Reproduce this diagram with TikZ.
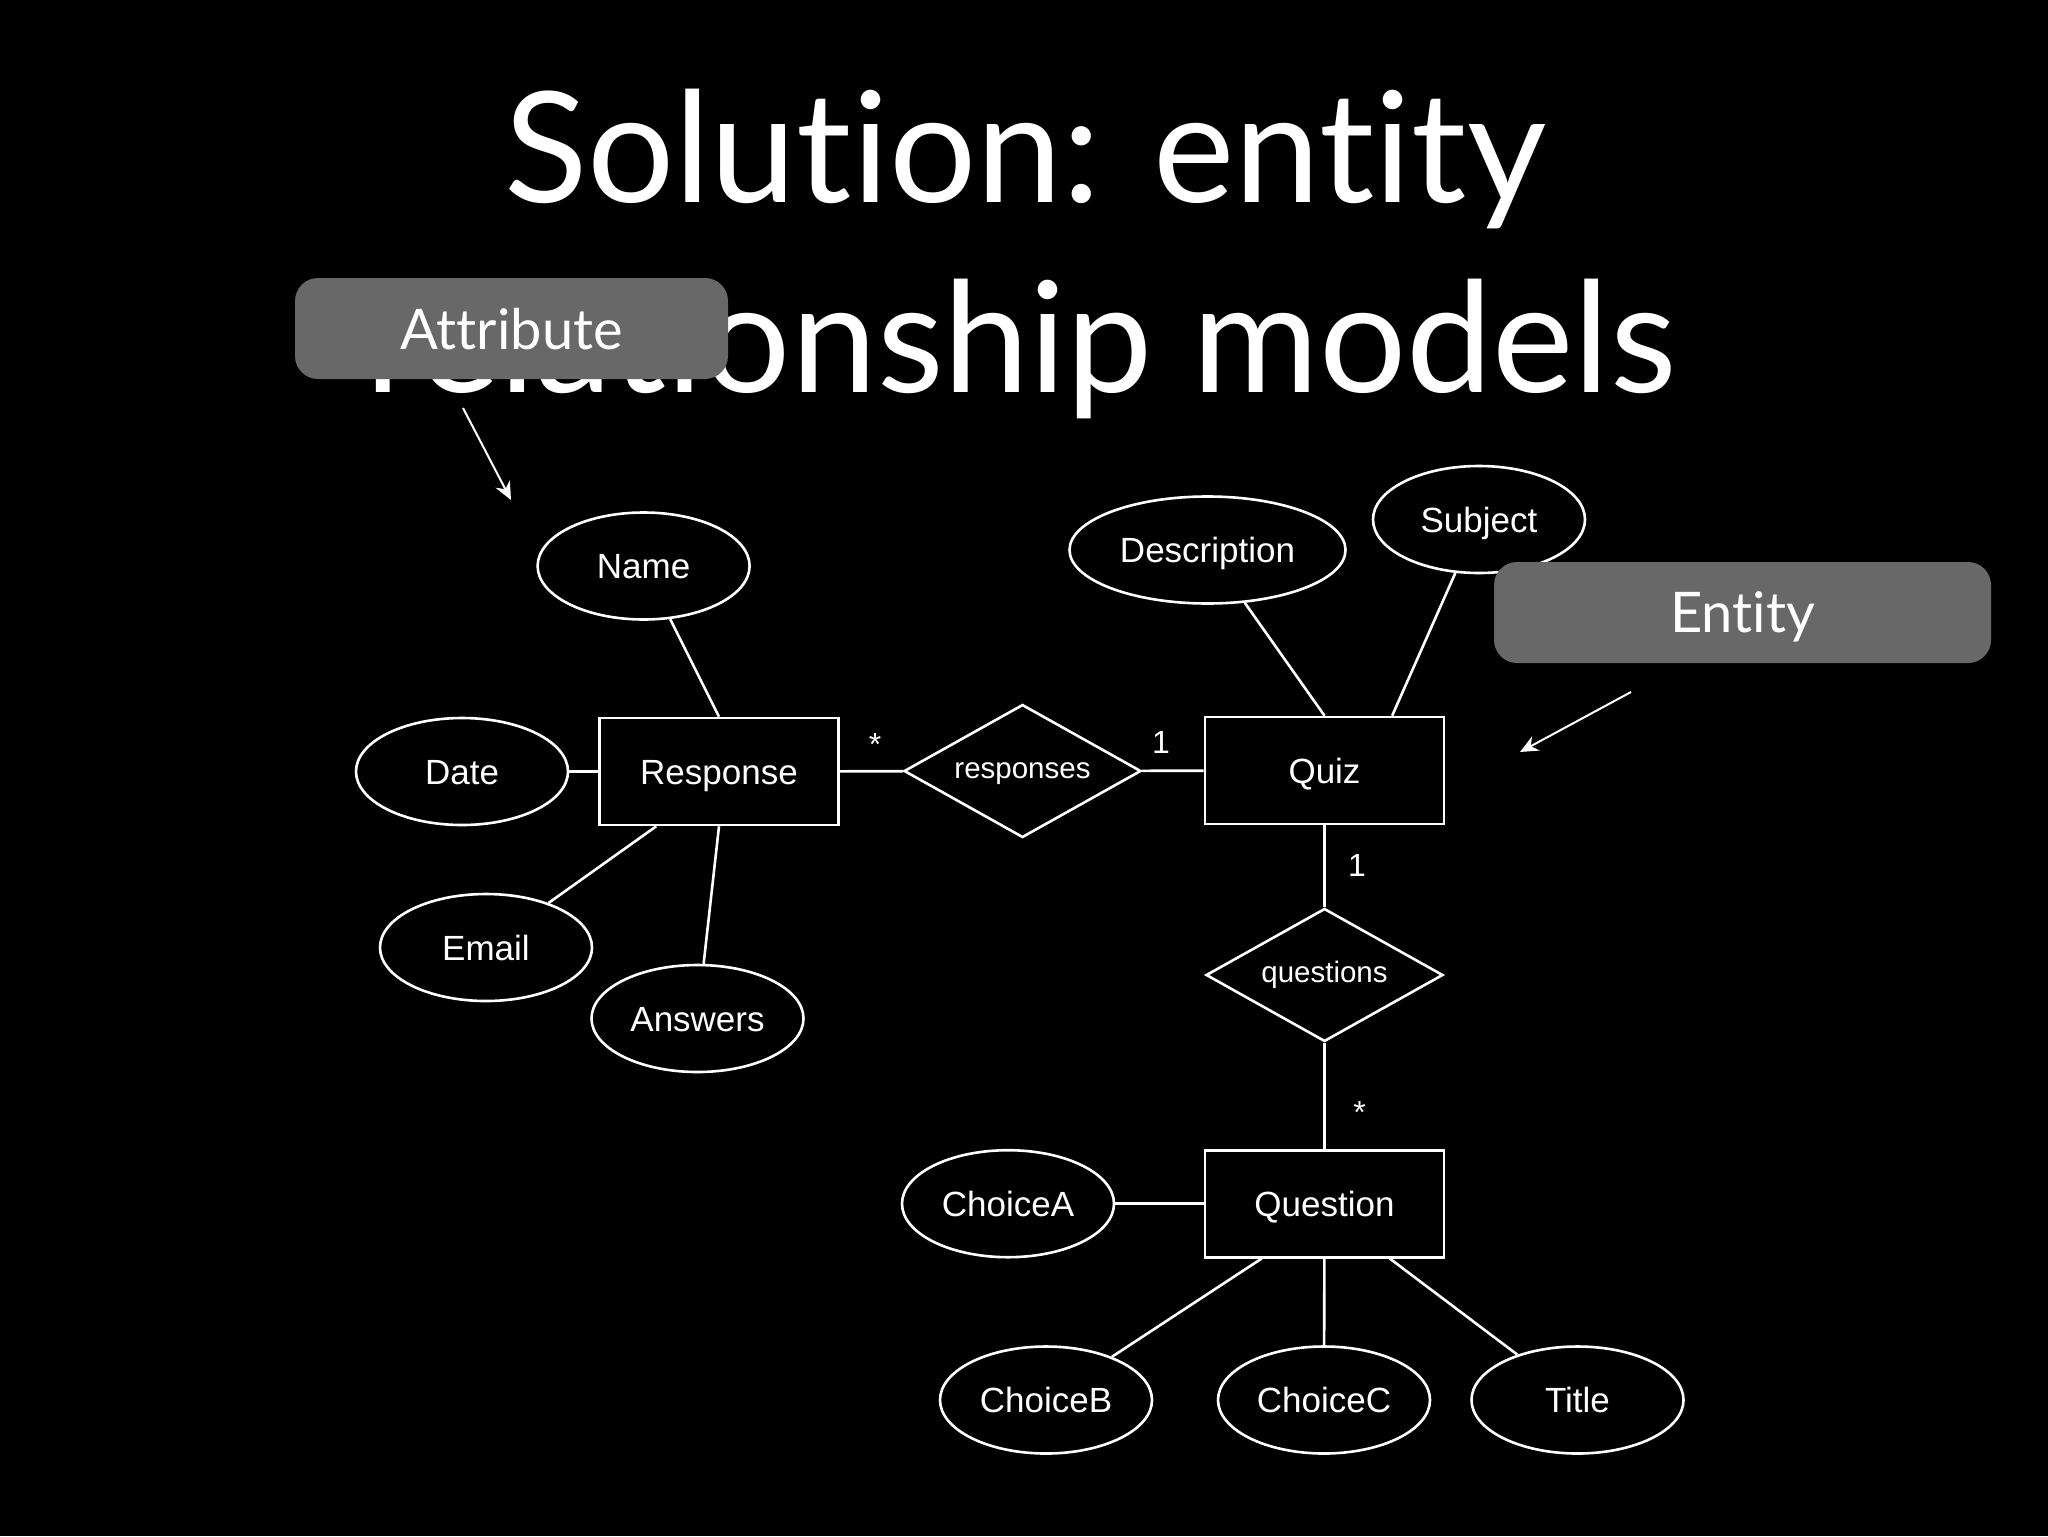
\documentclass[tikz,border=0pt]{standalone}
\usepackage{fontspec}
\setmainfont{Liberation Sans}
\newfontfamily\titlefont[Ligatures={NoCommon,NoContextual}]{Lato}
\usetikzlibrary{shapes.geometric,arrows.meta,calc}
\definecolor{callgray}{HTML}{686868}
\begin{document}
\begin{tikzpicture}[x=0.5pt,y=-0.5pt,
  attrnode/.style={ellipse,draw=white,line width=1.3pt,minimum width=106pt,minimum height=53.5pt,inner sep=0pt,text=white,text height=12.5pt,text depth=0pt,font=\fontsize{17.5pt}{20pt}\selectfont},
  entnode/.style={rectangle,draw=white,line width=1.3pt,minimum width=119.5pt,minimum height=53.5pt,inner sep=0pt,text=white,text height=12.5pt,text depth=0pt,font=\fontsize{17.5pt}{20pt}\selectfont},
  relnode/.style={diamond,aspect=1.78,draw=white,line width=1.3pt,minimum width=118.5pt,minimum height=66.5pt,inner sep=0pt,text=white,text height=7.7pt,text depth=0pt,font=\fontsize{14.75pt}{17pt}\selectfont},
  conn/.style={draw=white,line width=1.3pt},
  card/.style={text=white,font=\fontsize{16pt}{18pt}\selectfont,inner sep=0pt},
  callout/.style={rectangle,rounded corners=11.5pt,fill=callgray,minimum height=50.5pt,inner sep=0pt,text=white,text depth=0pt,font=\titlefont\fontsize{28pt}{32pt}\selectfont},
  pointer/.style={draw=white,line width=1pt,-{Stealth[length=9pt,width=8pt]}},
  titletext/.style={text=white,inner sep=0pt,anchor=base,font=\titlefont\fontsize{77pt}{90pt}\selectfont}
]
\fill[black] (0,0) rectangle (2048,1536);
\useasboundingbox (0,0) rectangle (2048,1536);

% title
\node[titletext] (t1) at (1025,202) {Solution: entity};
\node[titletext] (t2) at (1021,392) {relationship models};

% entities
\node[entnode] (resp) at (719,771.5) {Response};
\node[entnode] (quiz) at (1324.5,770.5) {Quiz};
\node[entnode] (question) at (1324.5,1203.7) {Question};

% relationships
\node[relnode] (responses) at (1022.5,771) {responses};
\node[relnode] (questions) at (1324.5,975) {questions};

% attributes
\node[attrnode] (name) at (643.6,566) {Name};
\node[attrnode] (date) at (462,771.5) {Date};
\node[attrnode] (email) at (486,947.5) {Email};
\node[attrnode] (answers) at (697.5,1018.5) {Answers};
\node[attrnode,minimum width=138pt] (desc) at (1207.5,550) {Description};
\node[attrnode] (subject) at (1479,519.5) {Subject};
\node[attrnode] (choicea) at (1008,1203.7) {ChoiceA};
\node[attrnode] (choiceb) at (1046,1400) {ChoiceB};
\node[attrnode] (choicec) at (1324,1400) {ChoiceC};
\node[attrnode] (ttl) at (1577.5,1400) {Title};

% connectors
\draw[conn] (name) -- (resp.north);
\draw[conn] (date) -- (resp);
\draw[conn] (email) -- ($(resp.south)!0.52!(resp.south west)$);
\draw[conn] (answers) -- (resp.south);
\draw[conn] (resp) -- (responses);
\draw[conn] (responses) -- (quiz);
\draw[conn] (desc) -- (quiz.north);
\draw[conn] (subject) -- ($(quiz.north)!0.56!(quiz.north east)$);
\draw[conn] (quiz) -- (questions);
\draw[conn] (questions) -- (question);
\draw[conn] (choicea) -- (question);
\draw[conn] (choiceb) -- ($(question.south)!0.52!(question.south west)$);
\draw[conn] (choicec) -- (question);
\draw[conn] (ttl) -- ($(question.south)!0.54!(question.south east)$);

% cardinalities
\node[card] (c1) at (875,744) {*};
\node[card] (c2) at (1161,742) {1};
\node[card] (c3) at (1357,865) {1};
\node[card] (c4) at (1359.6,1112) {*};

% callouts
\node[callout,minimum width=216.5pt] (attrbox) at (511.5,328.5) {Attribute};
\node[callout,minimum width=248.5pt] (entbox) at (1742.5,612.5) {Entity};
\coordinate (a1) at (463,408);
\coordinate (a2) at (511,500);
\coordinate (e1) at (1631,692);
\coordinate (e2) at (1520,752);
\draw[pointer] (a1) -- (a2);
\draw[pointer] (e1) -- (e2);
\end{tikzpicture}
\end{document}
